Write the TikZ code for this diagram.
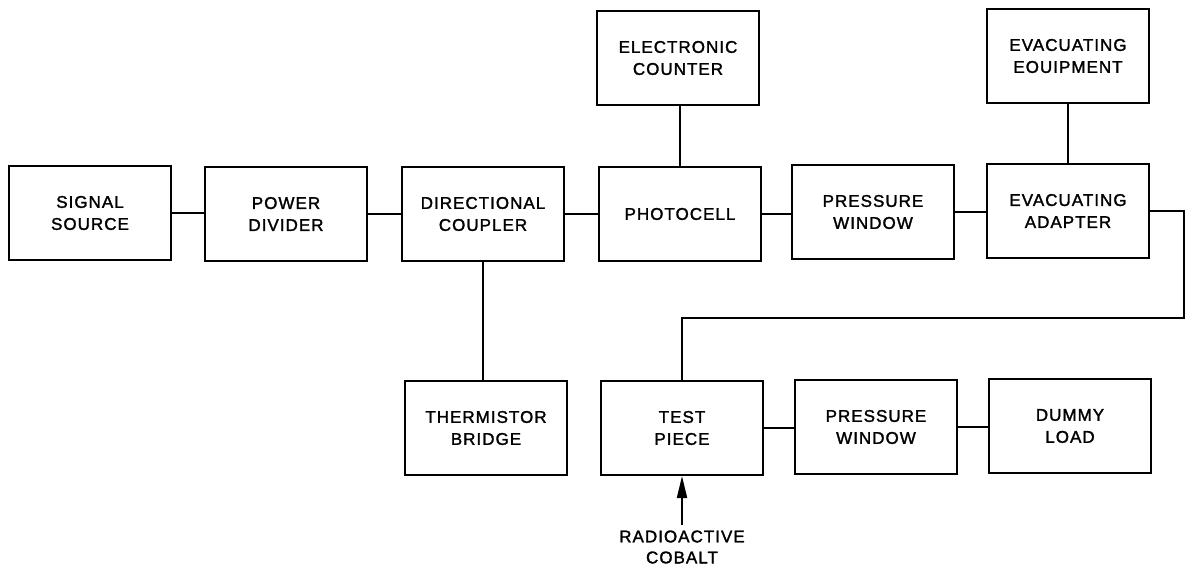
\documentclass[tikz,border=0pt]{standalone}
\usepackage{fontspec}
\newfontfamily\lblfont[LetterSpace=6,FakeBold=1.6]{Liberation Sans}
\usetikzlibrary{arrows.meta}
\begin{document}
\begin{tikzpicture}[x=1pt,y=-1pt,
  blk/.style={draw,line width=2pt,rectangle,inner sep=0pt,minimum width=162pt,minimum height=94pt,align=center,font=\lblfont\fontsize{17}{22}\selectfont},
  lbl/.style={inner sep=0pt,align=center,font=\lblfont\fontsize{17}{21}\selectfont},
  con/.style={line width=2pt}]
\useasboundingbox (0,0) rectangle (1190,568);
% top row
\node[blk] (sig) at (90,213) {SIGNAL\\SOURCE};
\node[blk] (pow) at (286,214) {POWER\\DIVIDER};
\node[blk] (dc)  at (483,214) {DIRECTIONAL\\COUPLER};
\node[blk] (pc)  at (680,214) {PHOTOCELL};
\node[blk] (pw1) at (873,212) {PRESSURE\\WINDOW};
\node[blk] (ea)  at (1068,211) {EVACUATING\\ADAPTER};
% upper boxes
\node[blk] (ec)  at (678,58) {ELECTRONIC\\COUNTER};
\node[blk] (ee)  at (1068,56) {EVACUATING\\EOUIPMENT};
% bottom row
\node[blk] (tb)  at (486,428) {THERMISTOR\\BRIDGE};
\node[blk] (tp)  at (682,428) {TEST\\PIECE};
\node[blk] (pw2) at (876,427) {PRESSURE\\WINDOW};
\node[blk] (dl)  at (1070,426) {DUMMY\\LOAD};
% label
\node[lbl] (rc) at (682,547) {RADIOACTIVE\\COBALT};
% connectors
\draw[con] (sig.east) -- (sig.east -| pow.west);
\draw[con] (pow.east) -- (pow.east -| dc.west);
\draw[con] (dc.east) -- (dc.east -| pc.west);
\draw[con] (pc.east) -- (pc.east -| pw1.west);
\draw[con] (pw1.east) -- (pw1.east -| ea.west);
\draw[con] (pc.north) -- (pc.north |- ec.south);
\draw[con] (ea.north) -- (ea.north |- ee.south);
\draw[con] (dc.south) -- (dc.south |- tb.north);
\draw[con] (tp.east) -- (tp.east -| pw2.west);
\draw[con] (pw2.east) -- (pw2.east -| dl.west);
\coordinate (r1) at (1184,211);
\coordinate (r2) at (1184,318);
\draw[con] (ea.east) -- (r1) -- (r2) -| (tp.north);
\draw[con,shorten <=5pt,-{Triangle[length=22pt,width=10pt]}] (rc.north) -- (tp.south);
\end{tikzpicture}
\end{document}
